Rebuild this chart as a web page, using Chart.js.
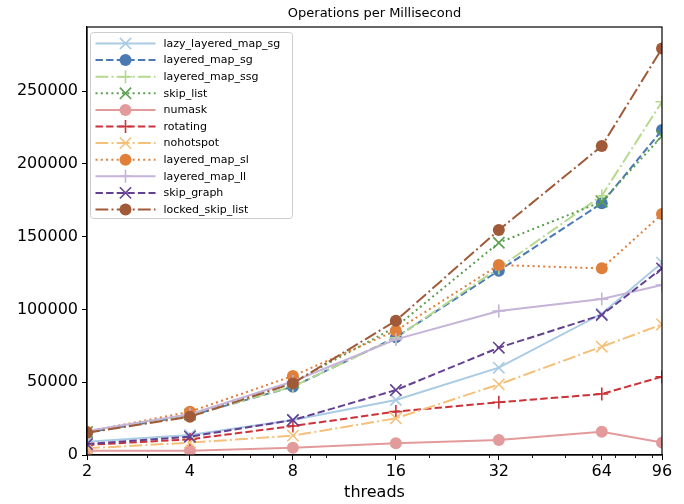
<!DOCTYPE html>
<html>
<head>
<meta charset="utf-8">
<script src="https://cdn.jsdelivr.net/npm/chart.js@4"></script>
<style>
  html, body { margin: 0; padding: 0; background: #ffffff; }
  #wrap { width: 684px; height: 504px; position: relative; }
</style>
</head>
<body>
<div id="wrap"><canvas id="chart" width="684" height="504"></canvas></div>
<script>
// Thread counts on the x axis
const threads = [2, 4, 8, 16, 32, 64, 96];
const xMajorTicks = [2, 4, 8, 16, 32, 64, 96];
const xMinorTicks = [3, 5, 6, 7, 9, 10, 20, 30, 40, 50, 60, 70, 80, 90];
const yTicks = [0, 50000, 100000, 150000, 200000, 250000];

// Operations per millisecond for each implementation
const lazyLayeredMapSg = [9100, 13700, 24000, 37800, 60000, 97000, 132100];
const layeredMapSg     = [15500, 27000, 46900, 80800, 126600, 172900, 223200];
const layeredMapSsg    = [15500, 27200, 47000, 80500, 128500, 178100, 242700];
const skipList         = [15800, 27800, 50000, 88000, 145800, 174000, 219100];
const numask           = [3000, 3000, 5000, 8000, 10300, 16000, 8500];
const rotating         = [6900, 10800, 19900, 29800, 36200, 41900, 53800];
const nohotspot        = [4600, 8500, 13300, 25200, 48500, 74400, 89700];
const layeredMapSl     = [16000, 29700, 54300, 85400, 130500, 128200, 165500];
const layeredMapLl     = [16500, 28000, 50500, 79400, 98900, 107100, 116800];
const skipGraph        = [7500, 12600, 24000, 44600, 73700, 96200, 128200];
const lockedSkipList   = [15300, 26300, 49200, 92200, 154500, 212200, 279300];

const LW = 2;
const DASHED = [7.4, 3.2];
const DASHDOT = [12.8, 3.2, 2, 3.2];
const DOTTED = [2, 3.3];
const SOLID = [];

const seriesDefs = [
  { label: 'lazy_layered_map_sg', data: lazyLayeredMapSg, color: '#a9cbe4', dash: SOLID,   marker: 'crossRot' },
  { label: 'layered_map_sg',      data: layeredMapSg,     color: '#4a79b3', dash: DASHED,  marker: 'circle' },
  { label: 'layered_map_ssg',     data: layeredMapSsg,    color: '#b5d98f', dash: DASHDOT, marker: 'cross' },
  { label: 'skip_list',           data: skipList,         color: '#5a9e4f', dash: DOTTED,  marker: 'crossRot' },
  { label: 'numask',              data: numask,           color: '#e39a9b', dash: SOLID,   marker: 'circle' },
  { label: 'rotating',            data: rotating,         color: '#cc3338', dash: DASHED,  marker: 'cross' },
  { label: 'nohotspot',           data: nohotspot,        color: '#f4c07a', dash: DASHDOT, marker: 'crossRot' },
  { label: 'layered_map_sl',      data: layeredMapSl,     color: '#e07f3a', dash: DOTTED,  marker: 'circle' },
  { label: 'layered_map_ll',      data: layeredMapLl,     color: '#c5b3d8', dash: SOLID,   marker: 'cross' },
  { label: 'skip_graph',          data: skipGraph,        color: '#633f92', dash: DASHED,  marker: 'crossRot' },
  { label: 'locked_skip_list',    data: lockedSkipList,   color: '#a05a38', dash: DASHDOT, marker: 'circle' }
];

function markerRadius(style) {
  if (style === 'circle') return 6;
  if (style === 'crossRot') return 8;
  return 6.5;
}

const datasets = seriesDefs.map((s, i) => ({
  label: s.label,
  data: threads.map((t, k) => ({ x: t, y: s.data[k] })),
  borderColor: s.color,
  backgroundColor: s.color,
  borderWidth: LW,
  borderDash: s.dash,
  pointStyle: s.marker,
  pointRadius: markerRadius(s.marker),
  pointBorderWidth: s.marker === 'circle' ? 0 : 1.6,
  pointBackgroundColor: s.color,
  pointBorderColor: s.color,
  tension: 0,
  clip: 0,
  order: seriesDefs.length - i
}));

const FONT = 'DejaVu Sans';

// Frame, minor ticks, title and legend drawn on top of the plot
const decorations = {
  id: 'decorations',
  afterDatasetsDraw(chart) {
    const ctx = chart.ctx;
    const a = chart.chartArea;
    const xs = chart.scales.x;
    ctx.save();
    // minor ticks on the x axis
    ctx.strokeStyle = '#000000';
    ctx.lineWidth = 0.9;
    xMinorTicks.forEach(v => {
      const px = Math.round(xs.getPixelForValue(v)) + 0.5;
      ctx.beginPath();
      ctx.moveTo(px, a.bottom);
      ctx.lineTo(px, a.bottom + 3);
      ctx.stroke();
    });
    // axes frame
    ctx.lineWidth = 1.2;
    ctx.strokeStyle = '#000000';
    ctx.strokeRect(a.left, a.top, a.right - a.left, a.bottom - a.top);

    // plot title
    ctx.fillStyle = '#000000';
    ctx.font = '13px "' + FONT + '"';
    ctx.textAlign = 'center';
    ctx.textBaseline = 'middle';
    ctx.fillText('Operations per Millisecond', (a.left + a.right) / 2, 14);

    // legend
    const lx = a.left + 3.5, ly = a.top + 5.5, lw = 202, lh = 186;
    ctx.beginPath();
    ctx.roundRect(lx, ly, lw, lh, 3);
    ctx.fillStyle = 'rgba(255,255,255,0.8)';
    ctx.fill();
    ctx.strokeStyle = '#cccccc';
    ctx.lineWidth = 1;
    ctx.stroke();

    ctx.font = '11px "' + FONT + '"';
    ctx.textAlign = 'left';
    ctx.textBaseline = 'middle';
    chart.data.datasets.forEach((ds, i) => {
      const y = ly + 11 + i * 16.6;
      const x0 = lx + 5, x1 = lx + 65, xm = (x0 + x1) / 2;
      ctx.save();
      ctx.strokeStyle = ds.borderColor;
      ctx.lineWidth = LW;
      ctx.setLineDash(ds.borderDash);
      ctx.beginPath();
      ctx.moveTo(x0, y);
      ctx.lineTo(x1, y);
      ctx.stroke();
      ctx.setLineDash([]);
      ctx.fillStyle = ds.pointBackgroundColor;
      ctx.strokeStyle = ds.pointBorderColor;
      ctx.lineWidth = ds.pointBorderWidth;
      Chart.helpers.drawPoint(ctx, {
        pointStyle: ds.pointStyle,
        radius: ds.pointRadius,
        rotation: 0,
        borderWidth: ds.pointBorderWidth
      }, xm, y);
      ctx.restore();
      ctx.fillStyle = '#000000';
      ctx.fillText(ds.label, lx + 73, y + 0.5);
    });
    ctx.restore();
  }
};

new Chart(document.getElementById('chart'), {
  type: 'line',
  data: { datasets },
  options: {
    responsive: false,
    animation: false,
    devicePixelRatio: 1,
    layout: { padding: { top: 27, right: 22, bottom: 0, left: 0 } },
    plugins: {
      legend: { display: false },
      title: { display: false },
      tooltip: { enabled: false }
    },
    scales: {
      x: {
        type: 'logarithmic',
        min: 2,
        max: 96,
        afterBuildTicks(scale) {
          scale.ticks = xMajorTicks.map(v => ({ value: v }));
        },
        afterFit(scale) { scale.height = 49; },
        ticks: {
          color: '#000000',
          font: { family: FONT, size: 16 },
          padding: 2,
          maxRotation: 0,
          autoSkip: false,
          callback: (v) => String(v)
        },
        grid: {
          display: true,
          drawOnChartArea: false,
          drawTicks: true,
          tickLength: 5,
          tickColor: '#000000',
          tickWidth: 1
        },
        border: { display: true, color: '#000000', width: 1.2 },
        title: {
          display: true,
          text: 'threads',
          color: '#000000',
          font: { family: FONT, size: 16 },
          padding: { top: 0, bottom: 2 }
        }
      },
      y: {
        type: 'linear',
        min: 0,
        max: 294000,
        afterBuildTicks(scale) {
          scale.ticks = yTicks.map(v => ({ value: v }));
        },
        afterFit(scale) { scale.width = 87; },
        ticks: {
          color: '#000000',
          font: { family: FONT, size: 16 },
          padding: 4,
          callback: (v) => String(v)
        },
        grid: {
          display: true,
          drawOnChartArea: false,
          drawTicks: true,
          tickLength: 5,
          tickColor: '#000000',
          tickWidth: 1
        },
        border: { display: true, color: '#000000', width: 1.2 }
      }
    }
  },
  plugins: [decorations]
});
</script>
</body>
</html>
